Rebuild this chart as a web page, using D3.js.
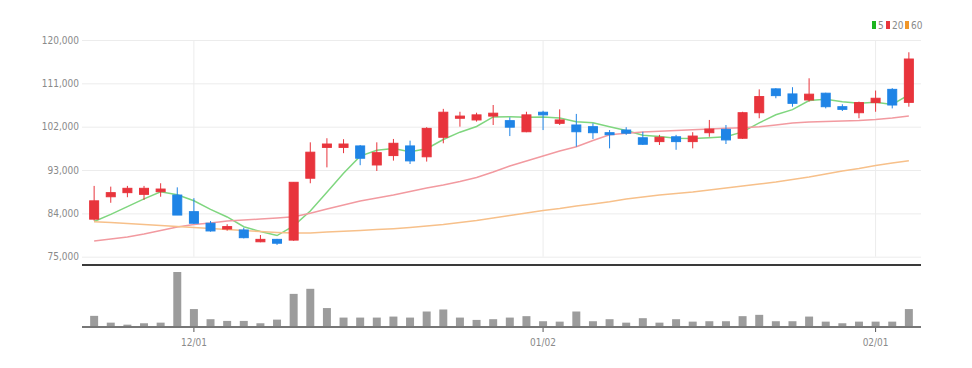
<!DOCTYPE html>
<html lang="ko">
<head>
    <meta charset="UTF-8" />
    <title>candle chart</title>
    <script src="https://d3js.org/d3.v7.min.js"></script>
    <style>
        body { margin: 0; background: #fff; }
        text { font-family: "Liberation Sans Narrow", "DejaVu Sans Condensed", sans-serif; font-size: 10px; fill: #8a8a8a; }
        .wick { stroke-width: 1px; }
        .up { fill: #e8343c; stroke: #e8343c; }
        .down { fill: #1f84e6; stroke: #1f84e6; }
        .grid line { stroke: #ececec; }
    </style>
</head>
<body>
<script>
    // trading days (Nov 2022 - Feb 2023)
    const dates = [
        "2022-11-23","2022-11-24","2022-11-25","2022-11-28","2022-11-29","2022-11-30",
        "2022-12-01","2022-12-02","2022-12-05","2022-12-06","2022-12-07","2022-12-08","2022-12-09",
        "2022-12-12","2022-12-13","2022-12-14","2022-12-15","2022-12-16","2022-12-19","2022-12-20",
        "2022-12-21","2022-12-22","2022-12-23","2022-12-26","2022-12-27","2022-12-28","2022-12-29",
        "2023-01-02","2023-01-03","2023-01-04","2023-01-05","2023-01-06","2023-01-09","2023-01-10",
        "2023-01-11","2023-01-12","2023-01-13","2023-01-16","2023-01-17","2023-01-18","2023-01-19",
        "2023-01-20","2023-01-25","2023-01-26","2023-01-27","2023-01-30","2023-01-31",
        "2023-02-01","2023-02-02","2023-02-03"
    ];
    const opens = [82800,87450,88300,87950,88500,87800,84350,81950,80750,80550,78100,78600,78450,
        91300,97700,97700,98000,94050,96000,98000,95750,99800,103750,103400,104200,103250,100950,
        105000,102700,102350,102000,100750,101300,99700,98900,99900,98900,100750,101450,99600,
        104900,109850,108800,107550,108950,106150,104900,107000,109750,107050];
    const highs = [89700,89550,89700,89700,90250,89400,87150,82400,81750,81000,79500,78700,90500,
        98750,99600,99400,98200,98750,99450,99100,101900,105700,105100,104900,106500,103950,105100,
        105300,105600,104650,102700,101300,101900,100950,100300,100300,100850,103400,102350,105100,
        109750,110000,110200,112050,109050,106650,107200,109500,110000,117450];
    const lows = [82500,86200,87350,86800,87450,83650,81800,80200,80400,78800,78000,77450,78300,
        90250,93550,96500,94000,92800,94950,94250,94750,98550,102000,103050,102350,100050,100850,
        101300,102350,97850,99450,97500,100300,98200,98200,97200,97500,99900,98400,99450,
        103750,107900,106150,107200,105800,105250,103750,105100,105800,106150];
    const closes = [86600,88300,89200,89200,89050,83650,81950,80350,81250,78950,78600,77800,90450,
        96700,98400,98400,95450,96600,98550,94900,101650,105000,104200,104450,104800,101900,104450,
        104450,103400,100950,100750,100350,100650,98350,99800,98900,100050,101500,99250,104900,
        108250,108450,106850,108750,106150,105600,107000,107900,106500,116050];
    const volumes = [1100,430,230,370,430,5430,1770,770,600,600,370,730,3270,3770,1870,930,930,930,
        1030,930,1530,1730,930,700,770,930,1070,570,530,1530,570,770,430,870,430,770,530,570,570,
        1070,1200,570,570,1030,530,370,530,530,530,1770];

    // moving averages as drawn
    const ma5 = [82300,83800,85400,87000,88470,87880,86610,84840,83250,81230,80220,79390,81410,84500,
        88390,92350,95880,97110,97480,96780,97430,99340,100860,102040,104020,104070,103960,104010,
        103800,103030,102800,101980,101220,100210,99980,99610,99550,99720,99900,100920,102790,104470,
        105540,107440,107690,107160,106870,107080,106630,108610];
    const ma20 = [78260,78680,79090,79710,80440,81170,81690,82000,82410,82620,82830,83040,83310,84010,
        84900,85740,86570,87190,87820,88540,89270,89890,90620,91450,92590,93840,94880,95920,96950,
        97850,99140,100330,100650,100900,101050,101200,101350,101500,101650,101800,102000,102350,
        102770,102980,103080,103180,103290,103490,103810,104220];
    const ma60 = [82270,82100,81900,81690,81480,81270,81070,80860,80650,80440,80230,80030,79900,79940,
        80130,80280,80440,80630,80820,81070,81380,81690,82100,82520,83040,83560,84080,84600,85010,
        85530,85950,86420,86980,87400,87820,88130,88440,88850,89270,89680,90100,90510,91030,91550,
        92180,92800,93320,93940,94460,94940];

    const priceTicks = [75000, 84000, 93000, 102000, 111000, 120000];
    const tickDates = ["2022-12-01", "2023-01-02", "2023-02-01"];
    const tickLabels = ["12/01", "01/02", "02/01"];

    const legendNames = ["5", "20", "60"];
    const legendColors = ["#1db41d", "#e8343c", "#f0962a"];
    const lineColors = ["#7fd67f", "#f29aa0", "#f7c08a"];

    const width = 972, height = 368;
    const left = 82, right = 921;
    const priceTop = 40, priceBottom = 256.7;
    const volTop = 272, volBottom = 327;

    const svg = d3.select("body").append("svg")
        .attr("width", width)
        .attr("height", height);

    const x = d3.scaleBand().domain(dates).range([left, right]).padding(0.46);
    const cx = d => x(d) + x.bandwidth() / 2;
    const y = d3.scaleLinear().domain([75000, 120000]).range([priceBottom, priceTop]);
    const yVol = d3.scaleLinear().domain([0, 5430]).range([volBottom, volTop]);

    // horizontal grid + price labels
    svg.append("g")
        .attr("class", "grid")
        .attr("transform", `translate(${left},0)`)
        .call(d3.axisLeft(y).tickValues(priceTicks).tickSize(-(right - left)).tickPadding(3).tickFormat(d3.format(",")))
        .call(g => g.select(".domain").remove())
        .call(g => g.selectAll("text").attr("fill", null));

    // vertical grid at month ticks
    svg.append("g").attr("class", "grid")
        .selectAll("line")
        .data(tickDates)
        .enter().append("line")
        .attr("x1", d => cx(d)).attr("x2", d => cx(d))
        .attr("y1", priceTop).attr("y2", priceBottom);

    // separator
    svg.append("line")
        .attr("x1", left).attr("x2", right)
        .attr("y1", 265).attr("y2", 265)
        .attr("stroke", "#3a3a3a").attr("stroke-width", 2);

    // moving average lines
    [ma5, ma20, ma60].forEach((ma, i) => {
        svg.append("path")
            .datum(ma)
            .attr("fill", "none")
            .attr("stroke", lineColors[i])
            .attr("stroke-width", 1.5)
            .attr("d", d3.line().x((v, j) => cx(dates[j])).y(v => y(v)));
    });

    const candles = dates.map((d, i) => ({ date: d, open: opens[i], high: highs[i], low: lows[i], close: closes[i], vol: volumes[i] }));

    svg.selectAll(".wick")
        .data(candles)
        .enter().append("line")
        .attr("class", d => "wick " + (d.close >= d.open ? "up" : "down"))
        .attr("x1", d => cx(d.date)).attr("x2", d => cx(d.date))
        .attr("y1", d => y(d.high)).attr("y2", d => y(d.low));

    svg.selectAll(".body")
        .data(candles)
        .enter().append("rect")
        .attr("class", d => d.close >= d.open ? "up" : "down")
        .attr("stroke", "none")
        .attr("x", d => x(d.date))
        .attr("width", x.bandwidth())
        .attr("y", d => y(Math.max(d.open, d.close)))
        .attr("height", d => Math.max(2, Math.abs(y(d.open) - y(d.close))));

    // volume
    svg.selectAll(".vol")
        .data(candles)
        .enter().append("rect")
        .attr("fill", "#9c9c9c")
        .attr("x", d => x(d.date) + 0.5)
        .attr("width", x.bandwidth() - 1)
        .attr("y", d => yVol(d.vol))
        .attr("height", d => volBottom - yVol(d.vol));

    svg.append("g")
        .attr("transform", `translate(0,${volBottom})`)
        .call(d3.axisBottom(x).tickValues(tickDates).tickSize(5).tickPadding(7)
            .tickFormat(d => tickLabels[tickDates.indexOf(d)]))
        .call(g => g.select(".domain").remove())
        .call(g => g.selectAll("line").attr("stroke", "#555"))
        .call(g => g.selectAll("text").attr("fill", null));

    svg.append("line")
        .attr("x1", left).attr("x2", right)
        .attr("y1", volBottom).attr("y2", volBottom)
        .attr("stroke", "#777").attr("stroke-width", 2);

    // legend
    const legend = svg.append("g").attr("transform", "translate(872,21)");
    const legendX = [0, 14, 33];
    legendNames.forEach((name, i) => {
        legend.append("rect")
            .attr("x", legendX[i]).attr("y", 0)
            .attr("width", 4).attr("height", 8)
            .attr("fill", legendColors[i]);
        legend.append("text")
            .attr("x", legendX[i] + 6).attr("y", 8)
            .text(name);
    });
</script>
</body>
</html>
